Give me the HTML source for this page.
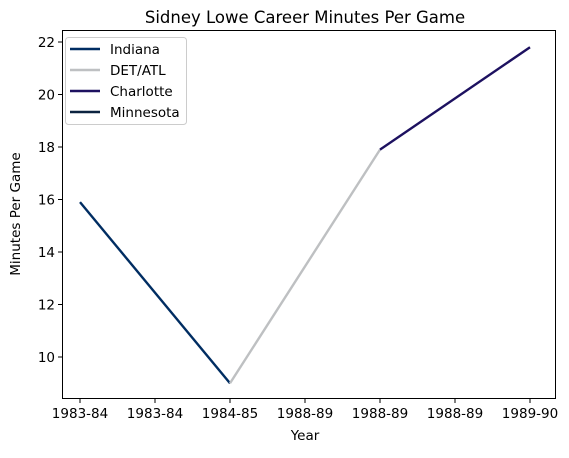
<!DOCTYPE html>
<html><head><meta charset="utf-8"><style>
body{margin:0;background:#fff;}
svg text{font-family:"DejaVu Sans","Liberation Sans",sans-serif;fill:#000;}
</style></head><body>
<svg id="chart" width="569" height="453" viewBox="0 0 569 453" xmlns="http://www.w3.org/2000/svg">
<rect width="569" height="453" fill="#fff"/>
<text x="305" y="23" font-size="16.5" text-anchor="middle">Sidney Lowe Career Minutes Per Game</text>
<g id="series"></g>
<g id="axes"></g>
<rect x="62.5" y="30.5" width="493" height="368" fill="none" stroke="#000" stroke-width="1"/>
<text x="305" y="440" font-size="13.5" text-anchor="middle">Year</text>
<text x="20" y="214" font-size="13.5" text-anchor="middle" transform="rotate(-90 20 214)">Minutes Per Game</text>
<g id="legend">
<rect x="65.5" y="37.5" width="121" height="87" rx="3" fill="#fff" fill-opacity="0.8" stroke="#ccc"/>
</g>
</svg>
<script>
const xTickLabels = ["1983-84","1983-84","1984-85","1988-89","1988-89","1988-89","1989-90"];
const xTickValues = [0,0.5,1,1.5,2,2.5,3];
const yTickValues = [10,12,14,16,18,20,22];
const seriesNames = ["Indiana","DET/ATL","Charlotte","Minnesota"];
const seriesColors = ["#002D62","#BEC0C2","#1D1160","#0C2340"];
const indianaX = [0,1];
const indianaY = [15.9,9.0];
const detAtlX = [1,2];
const detAtlY = [9.0,17.9];
const charlotteX = [2,3];
const charlotteY = [17.9,21.8];
const minnesotaX = [];
const minnesotaY = [];

const NS="http://www.w3.org/2000/svg";
function xs(v){return 80+v*150;}
function ys(v){return 42+(22-v)*26.25;}
function mk(tag,attrs,parent){const e=document.createElementNS(NS,tag);for(const k in attrs)e.setAttribute(k,attrs[k]);parent.appendChild(e);return e;}
const axes=document.getElementById('axes');
xTickValues.forEach((v,i)=>{
  const x=xs(v);
  const t=mk('line',{x1:x,x2:x,y1:398.5,y2:403,stroke:'#000'},axes);
  
  
  const l=mk('text',{x:x,y:418,'font-size':13.5,'text-anchor':'middle'},axes);
  l.textContent=xTickLabels[i];
  
  
});
yTickValues.forEach(v=>{
  const y=ys(v);
  const t=mk('line',{x1:58,x2:62.5,y1:y,y2:y,stroke:'#000'},axes);
  
  
  const l=mk('text',{x:55,y:y+5,'font-size':13.5,'text-anchor':'end'},axes);
  l.textContent=v;
  
  
});
const data=[[indianaX,indianaY],[detAtlX,detAtlY],[charlotteX,charlotteY],[minnesotaX,minnesotaY]];
const sg=document.getElementById('series');
data.forEach((d,i)=>{
  if(!d[0].length)return;
  const pts=d[0].map((x,j)=>xs(x)+','+ys(d[1][j])).join(' ');
  const p=mk('polyline',{points:pts,fill:'none',stroke:seriesColors[i],'stroke-width':2.4},sg);
  
  
});
const lg=document.getElementById('legend');
seriesNames.forEach((n,i)=>{
  const y=49+i*21;
  const l=mk('line',{x1:70,x2:100,y1:y,y2:y,stroke:seriesColors[i],'stroke-width':2.4},lg);
  
  
  const t=mk('text',{x:110,y:y+5,'font-size':13.5},lg);
  t.textContent=n;
  
  
});
</script>
</body></html>
